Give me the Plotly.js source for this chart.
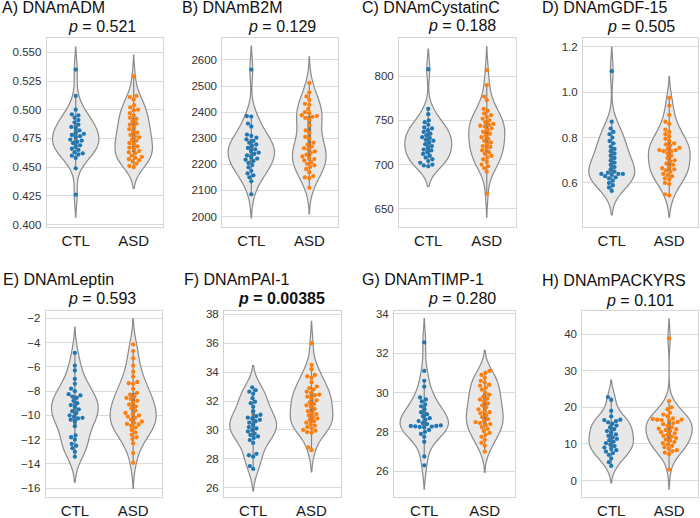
<!DOCTYPE html>
<html>
<head>
<meta charset="utf-8">
<script src="https://cdn.plot.ly/plotly-3.0.1.min.js"></script>
<style>html,body{margin:0;padding:0;background:#fff}#chart{width:700px;height:518px}</style>
</head>
<body>
<div id="chart"></div>
<script>
// ---------------- DATA ----------------
const groups = ['CTL', 'ASD'];
const panelTitles = ['A) DNAmADM', 'B) DNAmB2M', 'C) DNAmCystatinC', 'D) DNAmGDF-15',
                     'E) DNAmLeptin', 'F) DNAmPAI-1', 'G) DNAmTIMP-1', 'H) DNAmPACKYRS'];
const pValues = ['0.521', '0.129', '0.188', '0.505', '0.593', '0.00385', '0.280', '0.101'];
const pSignificant = [false, false, false, false, false, true, false, false];

const ctlADM = [0.535,0.512,0.500,0.496,0.495,0.493,0.491,0.489,0.487,0.485,0.484,0.482,0.480,0.479,0.478,0.477,0.476,0.474,0.473,0.472,0.471,0.469,0.468,0.466,0.465,0.463,0.462,0.461,0.460,0.458,0.449,0.426];
const asdADM = [0.529,0.512,0.511,0.509,0.504,0.502,0.4995,0.497,0.495,0.493,0.492,0.490,0.488,0.487,0.485,0.483,0.481,0.480,0.478,0.477,0.476,0.474,0.473,0.471,0.470,0.468,0.467,0.466,0.464,0.463,0.462,0.460,0.459,0.458,0.457,0.456,0.455,0.453,0.451,0.450,0.500];

const ctlB2M = [2563,2385,2383,2356,2345,2314,2309,2302,2296,2290,2283,2276,2270,2263,2257,2251,2245,2240,2234,2228,2222,2218,2213,2205,2197,2188,2175,2165,2158,2150,2135,2085];
const asdB2M = [2512,2475,2460,2447,2432,2428,2412,2400,2396,2388,2385,2382,2378,2370,2350,2330,2320,2305,2298,2283,2275,2268,2262,2257,2250,2243,2237,2230,2224,2220,2215,2208,2202,2196,2190,2182,2170,2155,2150,2147,2110];

const ctlCystatinC = [808,763,757,750,748,745,742,741,739,737,735,733,731,730,728,727,725,723,721,719,717,716,714,712,710,708,706,704,702,700,699,698];
const asdCystatinC = [807,790,777,773,763,761,758,756,754,752,750,748,746,745,744,743,741,739,737,735,733,731,729,727,725,723,721,720,718,716,714,712,710,708,706,703,700,698,696,692,667];

const ctlGDF15 = [1.093,0.870,0.84,0.825,0.815,0.80,0.785,0.775,0.76,0.75,0.74,0.73,0.72,0.71,0.70,0.69,0.68,0.67,0.66,0.65,0.645,0.64,0.64,0.64,0.635,0.63,0.625,0.62,0.61,0.60,0.59,0.58,0.565];
const asdGDF15 = [0.975,0.94,0.90,0.87,0.86,0.835,0.825,0.815,0.805,0.795,0.785,0.775,0.77,0.765,0.755,0.75,0.745,0.745,0.74,0.74,0.73,0.72,0.71,0.70,0.695,0.685,0.68,0.67,0.665,0.66,0.655,0.65,0.64,0.635,0.63,0.62,0.615,0.60,0.595,0.55,0.545];

const ctlLeptin = [-4.85,-5.9,-6.3,-7.0,-7.4,-7.8,-8.0,-8.25,-8.35,-8.45,-8.55,-8.8,-9.0,-9.15,-9.3,-9.5,-9.65,-9.8,-10.0,-10.1,-10.2,-10.25,-10.35,-10.5,-10.9,-11.65,-11.8,-12.0,-12.35,-12.5,-12.7,-13.0,-13.4];
const asdLeptin = [-4.15,-4.7,-5.3,-5.9,-6.4,-6.8,-7.25,-7.35,-7.4,-7.8,-8.15,-8.3,-8.45,-8.55,-8.65,-8.8,-8.95,-9.1,-9.25,-9.4,-9.6,-9.8,-9.9,-10.0,-10.1,-10.2,-10.35,-10.5,-10.6,-10.7,-10.75,-10.85,-11.0,-11.2,-11.4,-11.6,-11.8,-11.95,-12.3,-13.1,-13.9];

const ctlPAI1 = [32.95,32.75,32.65,32.5,32.2,31.95,31.85,31.6,31.3,31.05,30.95,30.85,30.8,30.7,30.6,30.5,30.35,30.2,30.1,30.0,29.9,29.75,29.65,29.55,29.45,29.3,29.1,28.35,28.25,28.15,27.5,27.3];
const asdPAI1 = [36.0,34.5,34.2,33.8,33.7,33.6,33.3,33.0,32.9,32.8,32.65,32.55,32.45,32.4,32.3,32.2,32.05,31.9,31.8,31.7,31.6,31.45,31.3,31.2,31.1,31.0,30.9,30.8,30.7,30.6,30.5,30.4,30.3,30.2,30.1,30.0,29.95,29.85,29.8,28.8,28.6];

const ctlTIMP1 = [32.55,31.1,30.6,30.3,29.75,29.65,29.55,29.4,29.3,29.15,29.0,28.9,28.8,28.7,28.62,28.55,28.45,28.4,28.33,28.3,28.3,28.28,28.27,28.25,28.23,28.1,28.0,27.9,27.75,27.5,26.75,26.3];
const asdTIMP1 = [31.1,31.0,30.9,30.75,30.6,30.5,30.4,30.35,30.25,30.15,30.0,29.9,29.8,29.7,29.65,29.55,29.45,29.35,29.25,29.15,29.05,29.0,28.95,28.85,28.75,28.65,28.55,28.5,28.45,28.4,28.35,28.25,28.15,28.05,27.95,27.85,27.75,27.6,27.45,27.3,27.0];

const ctlPACKYRS = [22.8,22.0,19.0,17.5,16.6,16.5,16.2,15.9,15.5,15.0,14.5,14.0,13.5,13.1,12.6,12.2,11.8,11.4,11.0,10.6,10.2,9.8,9.4,9.0,8.6,8.3,7.9,7.5,7.0,6.0,5.0,4.0];
const asdPACKYRS = [38.8,21.7,20.0,19.5,18.5,18.0,17.5,17.0,16.8,16.6,16.6,16.5,16.4,16.0,15.7,15.4,15.0,14.6,14.2,14.0,13.8,13.5,13.2,12.9,12.5,12.2,12.0,11.6,11.2,10.9,10.5,10.2,9.9,9.5,9.1,8.7,8.3,8.0,7.6,7.2,3.0];

// tick values / labels
const ticksADM = [0.400,0.425,0.450,0.475,0.500,0.525,0.550];
const tickTextADM = ['0.400','0.425','0.450','0.475','0.500','0.525','0.550'];
const ticksB2M = [2000,2100,2200,2300,2400,2500,2600];
const ticksCystatinC = [650,700,750,800];
const ticksGDF15 = [0.6,0.8,1.0,1.2];
const tickTextGDF15 = ['0.6','0.8','1.0','1.2'];
const ticksLeptin = [-16,-14,-12,-10,-8,-6,-4,-2];
const tickTextLeptin = ['\u221216','\u221214','\u221212','\u221210','\u22128','\u22126','\u22124','\u22122'];
const ticksPAI1 = [26,28,30,32,34,36,38];
const ticksTIMP1 = [26,28,30,32,34];
const ticksPACKYRS = [0,10,20,30,40];

// ---------------- LAYOUT (pixel boxes) ----------------
const W = 700, H = 518;
const panels = [
  {ctl: ctlADM, asd: asdADM, ticks: ticksADM, text: tickTextADM, box: [46.7,162.7,38.3,226.5], range: [0.3983,0.5622], title: [0,8], p: [102,26.5]},
  {ctl: ctlB2M, asd: asdB2M, ticks: ticksB2M, text: null, box: [222.3,338.3,38.3,226.5], range: [1961.7,2683], title: [180,8], p: [282,26.5]},
  {ctl: ctlCystatinC, asd: asdCystatinC, ticks: ticksCystatinC, text: null, box: [399,516,38.3,226.5], range: [629.8,843.1], title: [360,8], p: [461.7,25.5]},
  {ctl: ctlGDF15, asd: asdGDF15, ticks: ticksGDF15, text: tickTextGDF15, box: [583,698,38.3,226.5], range: [0.408,1.238], title: [540,8], p: [641,26.5]},
  {ctl: ctlLeptin, asd: asdLeptin, ticks: ticksLeptin, text: tickTextLeptin, box: [45.7,162.3,311,497], range: [-16.72,-1.40], title: [1,279], p: [102,298]},
  {ctl: ctlPAI1, asd: asdPAI1, ticks: ticksPAI1, text: null, box: [224,340.7,311,497], range: [25.36,38.23], title: [181.7,279], p: [281.7,298]},
  {ctl: ctlTIMP1, asd: asdTIMP1, ticks: ticksTIMP1, text: null, box: [394,515,311,497], range: [24.69,34.15], title: [360,279], p: [462,298]},
  {ctl: ctlPACKYRS, asd: asdPACKYRS, ticks: ticksPACKYRS, text: null, box: [582.3,698,311,497], range: [-4.5,46.3], title: [540,280], p: [640,300]}
];

const colors = ['#1f77b4', '#ff7f0e'];
const FONT = 'Liberation Sans, Arial, sans-serif';
const DOT = 4.3;

// ---------------- HELPERS ----------------
function scottBw(v) {
  const n = v.length, m = v.reduce((a, b) => a + b, 0) / n;
  const sd = Math.sqrt(v.reduce((a, b) => a + (b - m) * (b - m), 0) / (n - 1));
  return sd * Math.pow(n, -0.2);
}
function kdePeak(v, bw) {
  const lo = Math.min(...v) - 2 * bw, hi = Math.max(...v) + 2 * bw, n = v.length;
  let best = 0;
  for (let k = 0; k <= 400; k++) {
    const y = lo + (hi - lo) * k / 400;
    let s = 0;
    for (const x of v) { const z = (y - x) / bw; s += Math.exp(-0.5 * z * z); }
    best = Math.max(best, s / (n * bw * Math.sqrt(2 * Math.PI)));
  }
  return best;
}
function quantile(sorted, p) {
  const idx = (sorted.length - 1) * p, lo = Math.floor(idx), hi = Math.ceil(idx);
  return sorted[lo] + (sorted[hi] - sorted[lo]) * (idx - lo);
}
function swarm(values, center, pxX, pxY, d) {
  const order = values.map((v, i) => i).sort((a, b) => values[a] - values[b]);
  const placed = [], out = new Array(values.length);
  for (const i of order) {
    const y = values[i] * pxY;
    const nb = placed.filter(p => Math.abs(p.y - y) < d);
    const cands = [0];
    let leftFirst = true;
    for (const p of nb) {
      const dy = y - p.y;
      const dx = Math.sqrt(Math.max(d * d - dy * dy, 0)) * 1.05;
      if (leftFirst) cands.push(p.x - dx, p.x + dx); else cands.push(p.x + dx, p.x - dx);
      leftFirst = !leftFirst;
    }
    const sorted = cands.map((c, k) => [c, k]).sort((a, b) => Math.abs(a[0]) - Math.abs(b[0]) || a[1] - b[1]).map(a => a[0]);
    let chosen = sorted[0];
    for (const c of sorted) {
      if (nb.every(p => (p.x - c) * (p.x - c) + (p.y - y) * (p.y - y) >= d * d * 0.999)) { chosen = c; break; }
    }
    placed.push({x: chosen, y: y});
    out[i] = center + chosen / pxX;
  }
  return out;
}

// ---------------- BUILD ----------------
const traces = [];
const layout = {
  width: W, height: H,
  margin: {l: 0, r: 0, t: 0, b: 0},
  paper_bgcolor: '#ffffff', plot_bgcolor: '#ffffff',
  showlegend: false,
  violinmode: 'overlay',
  font: {family: FONT, color: '#262626'},
  annotations: []
};

panels.forEach((pn, k) => {
  const idx = k + 1;
  const xa = 'x' + (idx === 1 ? '' : idx), ya = 'y' + (idx === 1 ? '' : idx);
  const [l, r, t, b] = pn.box;
  const pxX = (r - l) / 2;
  const pxY = (b - t) / (pn.range[1] - pn.range[0]);
  const sets = [pn.ctl, pn.asd];
  const bws = sets.map(scottBw);
  const peaks = sets.map((s, g) => kdePeak(s, bws[g]));
  const maxPeak = Math.max(...peaks);

  sets.forEach((vals, g) => {
    traces.push({
      type: 'violin', x0: g, y: vals, xaxis: xa, yaxis: ya,
      bandwidth: bws[g], spanmode: 'soft', scalemode: 'width',
      width: 0.8 * peaks[g] / maxPeak,
      points: false, box: {visible: false}, meanline: {visible: false},
      fillcolor: '#e8e8e8', line: {color: '#8a8a8a', width: 1.2},
      hoverinfo: 'skip', name: groups[g]
    });
  });
  sets.forEach((vals, g) => {
    const s = vals.slice().sort((a, b) => a - b);
    const q1 = quantile(s, 0.25), q3 = quantile(s, 0.75), iqr = q3 - q1;
    const lo = Math.min(...s.filter(v => v >= q1 - 1.5 * iqr));
    const hi = Math.max(...s.filter(v => v <= q3 + 1.5 * iqr));
    traces.push({type: 'scatter', mode: 'lines', x: [g, g], y: [lo, hi], xaxis: xa, yaxis: ya,
      line: {color: '#858585', width: 1.2}, hoverinfo: 'skip'});
    traces.push({type: 'scatter', mode: 'lines', x: [g, g], y: [q1, q3], xaxis: xa, yaxis: ya,
      line: {color: '#7a7a7a', width: 3.6}, hoverinfo: 'skip'});
  });
  sets.forEach((vals, g) => {
    traces.push({
      type: 'scatter', mode: 'markers', x: swarm(vals, g, pxX, pxY, DOT), y: vals,
      xaxis: xa, yaxis: ya, name: groups[g],
      marker: {color: colors[g], size: DOT, line: {width: 0}}, hoverinfo: 'skip'
    });
  });

  const xKey = 'xaxis' + (idx === 1 ? '' : idx), yKey = 'yaxis' + (idx === 1 ? '' : idx);
  layout[xKey] = {
    domain: [l / W, r / W], anchor: ya, type: 'linear', range: [-0.5, 1.5],
    tickvals: [0, 1], ticktext: groups, ticks: '', showgrid: false, zeroline: false,
    showline: true, mirror: true, linecolor: '#d4d4d4', linewidth: 1,
    tickfont: {family: FONT, size: 15, color: '#1a1a1a'}, fixedrange: true
  };
  layout[yKey] = {
    domain: [1 - b / H, 1 - t / H], anchor: xa, type: 'linear', range: pn.range,
    tickvals: pn.ticks, ticktext: pn.text || pn.ticks.map(String), ticks: '',
    showgrid: true, gridcolor: '#dadada', gridwidth: 1, zeroline: false,
    showline: true, mirror: true, linecolor: '#d4d4d4', linewidth: 1,
    tickfont: {family: FONT, size: 11.5, color: '#333333'}, ticklabelstandoff: 2, fixedrange: true
  };

  layout.annotations.push({
    xref: 'paper', yref: 'paper', x: pn.title[0] / W, y: 1 - pn.title[1] / H,
    xanchor: 'left', yanchor: 'middle', showarrow: false, text: panelTitles[k],
    font: {family: FONT, size: 16, color: '#111111'}
  });
  const pt = '<i>p</i> = ' + pValues[k];
  layout.annotations.push({
    xref: 'paper', yref: 'paper', x: pn.p[0] / W, y: 1 - pn.p[1] / H,
    xanchor: 'center', yanchor: 'middle', showarrow: false,
    text: pSignificant[k] ? '<b>' + pt + '</b>' : pt,
    font: {family: FONT, size: 16, color: '#111111'}
  });
});

Plotly.newPlot('chart', traces, layout, {staticPlot: true, displayModeBar: false});
</script>
</body>
</html>
